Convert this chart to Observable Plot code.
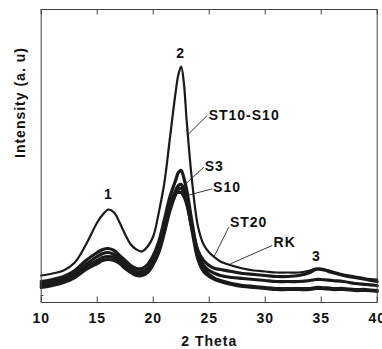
<!DOCTYPE html>
<html>
<head>
<meta charset="utf-8">
<script src="https://cdn.jsdelivr.net/npm/d3@7"></script>
<script src="https://cdn.jsdelivr.net/npm/@observablehq/plot@0.6"></script>
<style>
  html, body { margin: 0; padding: 0; background: #fff; }
  #chart svg text { letter-spacing: 1px; }
</style>
</head>
<body>
<div id="chart"></div>
<script>
// 2θ sample positions (degrees)
const theta = [10, 11, 12, 13, 14, 15, 15.5, 16, 16.5, 17, 17.5, 18, 18.5, 19, 19.5, 20, 20.5, 21, 21.5, 22, 22.25, 22.5, 22.75, 23, 23.5, 24, 24.5, 25, 25.5, 26, 27, 28, 29, 30, 31, 32, 33, 34, 34.5, 35, 36, 37, 38, 39, 40];

// Intensities (arbitrary units)
const ST10_S10 = [27, 29, 32, 40, 58, 80, 88, 93, 90, 80, 68, 58, 53, 51, 56, 66, 90, 120, 165, 210, 228, 236, 218, 180, 118, 76, 58, 50, 45, 41, 37, 34, 32, 31, 30, 30, 30, 32, 34, 34, 31, 28, 26, 24, 23];
const S3  = [21, 23, 26, 32, 42, 50, 53, 54, 52, 47, 42, 37, 34, 34, 38, 47, 61, 83, 106, 122, 130, 132, 124, 112, 78, 48, 34, 28, 24, 22, 19, 17, 16, 15, 14, 14, 14, 14, 15, 15, 14, 14, 13, 13, 12];
const S10 = [17, 19, 22, 27, 35, 42, 45, 46, 45, 41, 36, 32, 29, 29, 32, 40, 53, 72, 95, 112, 117, 118, 113, 102, 70, 43, 31, 26, 23, 21, 18, 16, 15, 14, 13, 13, 13, 13, 14, 14, 13, 13, 12, 12, 11];
const ST20 = [15, 17, 20, 25, 33, 39, 42, 43, 42, 39, 34, 30, 27, 27, 30, 38, 50, 70, 92, 108, 113, 114, 110, 100, 72, 48, 37, 32, 29, 27, 25, 24, 23, 22, 21, 21, 21, 22, 23, 23, 22, 21, 19, 18, 17];
const RK  = [19, 21, 24, 29, 38, 46, 49, 50, 48, 44, 39, 34, 31, 31, 34, 42, 55, 76, 98, 110, 110, 110, 106, 98, 74, 52, 42, 37, 34, 33, 31, 29, 28, 27, 26, 26, 27, 30, 33, 33, 30, 27, 25, 23, 21];

const seriesNames = ["ST10-S10", "S3", "S10", "ST20", "RK"];
const seriesValues = [ST10_S10, S3, S10, ST20, RK];

// Axis ticks
const xTicks = [10, 15, 20, 25, 30, 35, 40];
const yTicks = [7];

// Peak numbers
const peakLabels = ["1", "2", "3"];
const peakX = [16.0, 22.45, 34.56];
const peakY = [108, 249, 46];

// Sample labels with leader lines
const sampleLabels = ["ST10-S10", "S3", "S10", "ST20", "RK"];
const sampleTextX = [24.95, 24.6, 25.35, 26.85, 30.75];
const sampleTextY = [187, 136, 114.5, 80.3, 60];
const leaderX1 = [23.18, 22.9, 23.03, 25.41, 26.9];
const leaderY1 = [168.7, 118.7, 107, 45.3, 38.7];
const leaderX2 = [24.82, 24.52, 25.27, 26.75, 30.62];
const leaderY2 = [187, 135.3, 113.7, 75.3, 57];

// Build tables
const rows = [];
seriesNames.forEach((name, i) => {
  theta.forEach((t, j) => rows.push({series: name, theta: t, intensity: seriesValues[i][j]}));
});
const peaks = peakLabels.map((l, i) => ({label: l, x: peakX[i], y: peakY[i]}));
const samples = sampleLabels.map((l, i) => ({label: l, x: sampleTextX[i], y: sampleTextY[i],
  x1: leaderX1[i], y1: leaderY1[i], x2: leaderX2[i], y2: leaderY2[i]}));

const yMax = 293;
const font = "'Liberation Sans', Arial, sans-serif";

const chart = Plot.plot({
  width: 382,
  height: 349,
  marginLeft: 40.7,
  marginRight: 5.3,
  marginTop: 9,
  marginBottom: 47,
  style: {fontFamily: font, fontWeight: "bold", fontSize: "14px", color: "#111", background: "#fff", overflow: "visible"},
  x: {domain: [10, 40]},
  y: {domain: [0, yMax], axis: null},
  marks: [
    Plot.line(rows.filter(d => d.series !== "ST10-S10"), {x: "theta", y: "intensity", z: "series", stroke: "#1a1a1a", strokeWidth: 3.2, curve: "catmull-rom"}),
    Plot.line(rows.filter(d => d.series === "ST10-S10"), {x: "theta", y: "intensity", stroke: "#1a1a1a", strokeWidth: 2.2, curve: "catmull-rom"}),
    Plot.frame({stroke: "#444", strokeWidth: 1}),
    Plot.ruleX(xTicks, {y1: 0, y2: 5.5, stroke: "#444"}),
    Plot.ruleX(xTicks, {y1: yMax - 5.5, y2: yMax, stroke: "#444"}),
    Plot.ruleY(yTicks, {x1: 10, x2: 10.25, stroke: "#444"}),
    Plot.axisX(xTicks, {tickSize: 0, tickPadding: 11, fontSize: 14, fontWeight: "bold", label: null, fill: "#111"}),
    Plot.text(["2 Theta"], {frameAnchor: "bottom", dy: 39, lineAnchor: "middle", fontSize: 14, fontWeight: "bold", fill: "#111"}),
    Plot.text(["Intensity (a. u)"], {frameAnchor: "left", rotate: -90, dx: -21, dy: 2, lineAnchor: "middle", fontSize: 14, fontWeight: "bold", fill: "#111"}),
    Plot.link(samples, {x1: "x1", y1: "y1", x2: "x2", y2: "y2", stroke: "#222", strokeWidth: 0.9}),
    Plot.text(samples, {x: "x", y: "y", text: "label", textAnchor: "start", lineAnchor: "middle", fontSize: 14, fontWeight: "bold", fill: "#111"}),
    Plot.text(peaks, {x: "x", y: "y", text: "label", lineAnchor: "middle", fontSize: 14, fontWeight: "bold", fill: "#111"})
  ]
});
document.getElementById("chart").append(chart);
</script>
</body>
</html>
